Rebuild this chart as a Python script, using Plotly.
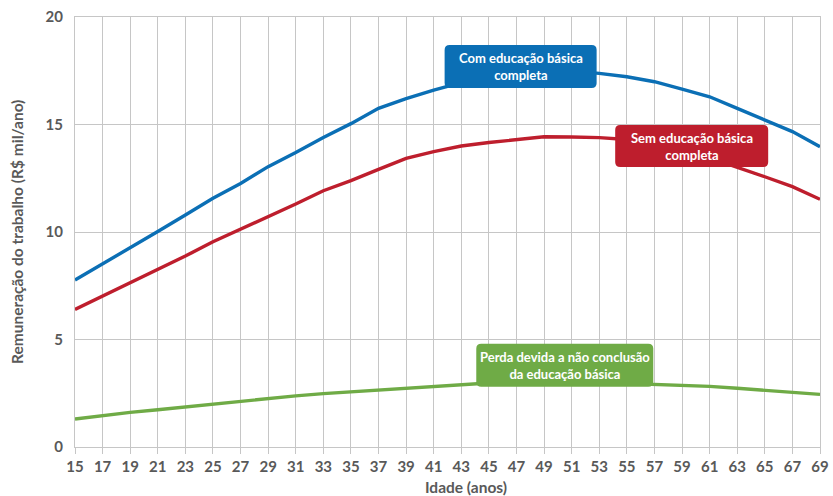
import plotly.graph_objects as go

# Age (years) and annual labour income (R$ thousand / year)
ages = list(range(15, 70, 2))
com_basica = [7.77, 8.51, 9.29, 10.02, 10.79, 11.57, 12.26, 13.04, 13.70, 14.40,
              15.04, 15.75, 16.20, 16.60, 16.95, 17.20, 17.40, 17.50, 17.48, 17.38,
              17.22, 16.99, 16.65, 16.29, 15.75, 15.21, 14.67, 13.97]
sem_basica = [6.40, 7.02, 7.64, 8.26, 8.88, 9.55, 10.12, 10.71, 11.30, 11.92,
              12.39, 12.91, 13.42, 13.74, 14.00, 14.16, 14.31, 14.43, 14.42, 14.39,
              14.30, 14.06, 13.80, 13.45, 13.02, 12.57, 12.11, 11.52]
perda = [1.30, 1.46, 1.61, 1.73, 1.86, 2.00, 2.12, 2.26, 2.38, 2.48,
         2.57, 2.65, 2.73, 2.81, 2.90, 2.98, 3.03, 3.05, 3.04, 3.00,
         2.96, 2.92, 2.88, 2.82, 2.73, 2.64, 2.55, 2.45]

series_names = ["Com educação básica<br>completa",
                "Sem educação básica<br>completa",
                "Perda devida a não conclusão<br>da educação básica"]
series_values = [com_basica, sem_basica, perda]
series_colors = ["#0b6fb5", "#be1e2d", "#6fab46"]

# Label box placement (anchor in data units, size in pixels)
label_anchor = [(47.3, 17.7), (59.7, 14.0), (50.5, 3.8)]
label_size = [(152, 43), (153, 42), (177, 43)]

GRID = "#c6c6c6"
TEXT = "#595959"
FONT = "Lato"

fig = go.Figure()
for name, vals, col in zip(series_names, series_values, series_colors):
    fig.add_trace(go.Scatter(x=ages, y=vals, mode="lines", name=name.replace("<br>", " "),
                             line=dict(color=col, width=3.4), showlegend=False,
                             hoverinfo="skip"))


def rounded_box(w, h, r):
    a, b = w / 2, h / 2
    return (f"M {-a + r},{-b} L {a - r},{-b} Q {a},{-b} {a},{-b + r} "
            f"L {a},{b - r} Q {a},{b} {a - r},{b} L {-a + r},{b} "
            f"Q {-a},{b} {-a},{b - r} L {-a},{-b + r} Q {-a},{-b} {-a + r},{-b} Z")


shapes = []
annotations = []
for name, col, (ax, ay), (w, h) in zip(series_names, series_colors, label_anchor, label_size):
    shapes.append(dict(type="path", xref="x", yref="y", xsizemode="pixel",
                       ysizemode="pixel", xanchor=ax, yanchor=ay,
                       path=rounded_box(w, h, 5), fillcolor=col,
                       line=dict(width=0), layer="above"))
    annotations.append(dict(x=ax, y=ay, xref="x", yref="y", text=name,
                            showarrow=False, align="center",
                            font=dict(family=FONT, size=13, color="white", weight="bold")))

# Axis titles
annotations.append(dict(x=466, y=0, xref="x domain", yref="paper",
                        text="Idade (anos)", showarrow=False,
                        xanchor="center", yanchor="middle", yshift=-40,
                        font=dict(family=FONT, size=15.5, color=TEXT, weight="bold")))
annotations[-1].update(x=(466 - 75) / 745)
annotations.append(dict(x=0, y=0.5, xref="paper", yref="paper",
                        text="Remuneração do trabalho (R$ mil/ano)", showarrow=False,
                        textangle=-90, xanchor="center", yanchor="middle", xshift=-58,
                        font=dict(family=FONT, size=15.5, color=TEXT, weight="bold")))

fig.update_layout(
    width=833, height=496,
    margin=dict(l=75, r=13, t=17, b=49),
    paper_bgcolor="white", plot_bgcolor="white",
    shapes=shapes, annotations=annotations,
    font=dict(family=FONT, color=TEXT),
)
fig.update_xaxes(
    range=[15, 69], tickvals=ages, ticktext=[str(a) for a in ages],
    showgrid=True, gridcolor=GRID, gridwidth=1.3,
    showline=True, linecolor=GRID, linewidth=1.3, mirror=True,
    ticks="outside", ticklen=6, tickcolor=GRID, tickwidth=1.3,
    tickfont=dict(family=FONT, size=15, color=TEXT, weight="bold"),
    automargin=False, zeroline=False,
)
fig.update_yaxes(
    range=[0, 20], tickvals=[0, 5, 10, 15, 20],
    showgrid=True, gridcolor=GRID, gridwidth=1.3,
    showline=True, linecolor=GRID, linewidth=1.3, mirror=True,
    ticks="", ticklabelstandoff=8,
    tickfont=dict(family=FONT, size=15, color=TEXT, weight="bold"),
    automargin=False, zeroline=False,
)

fig.write_html("out.html")
